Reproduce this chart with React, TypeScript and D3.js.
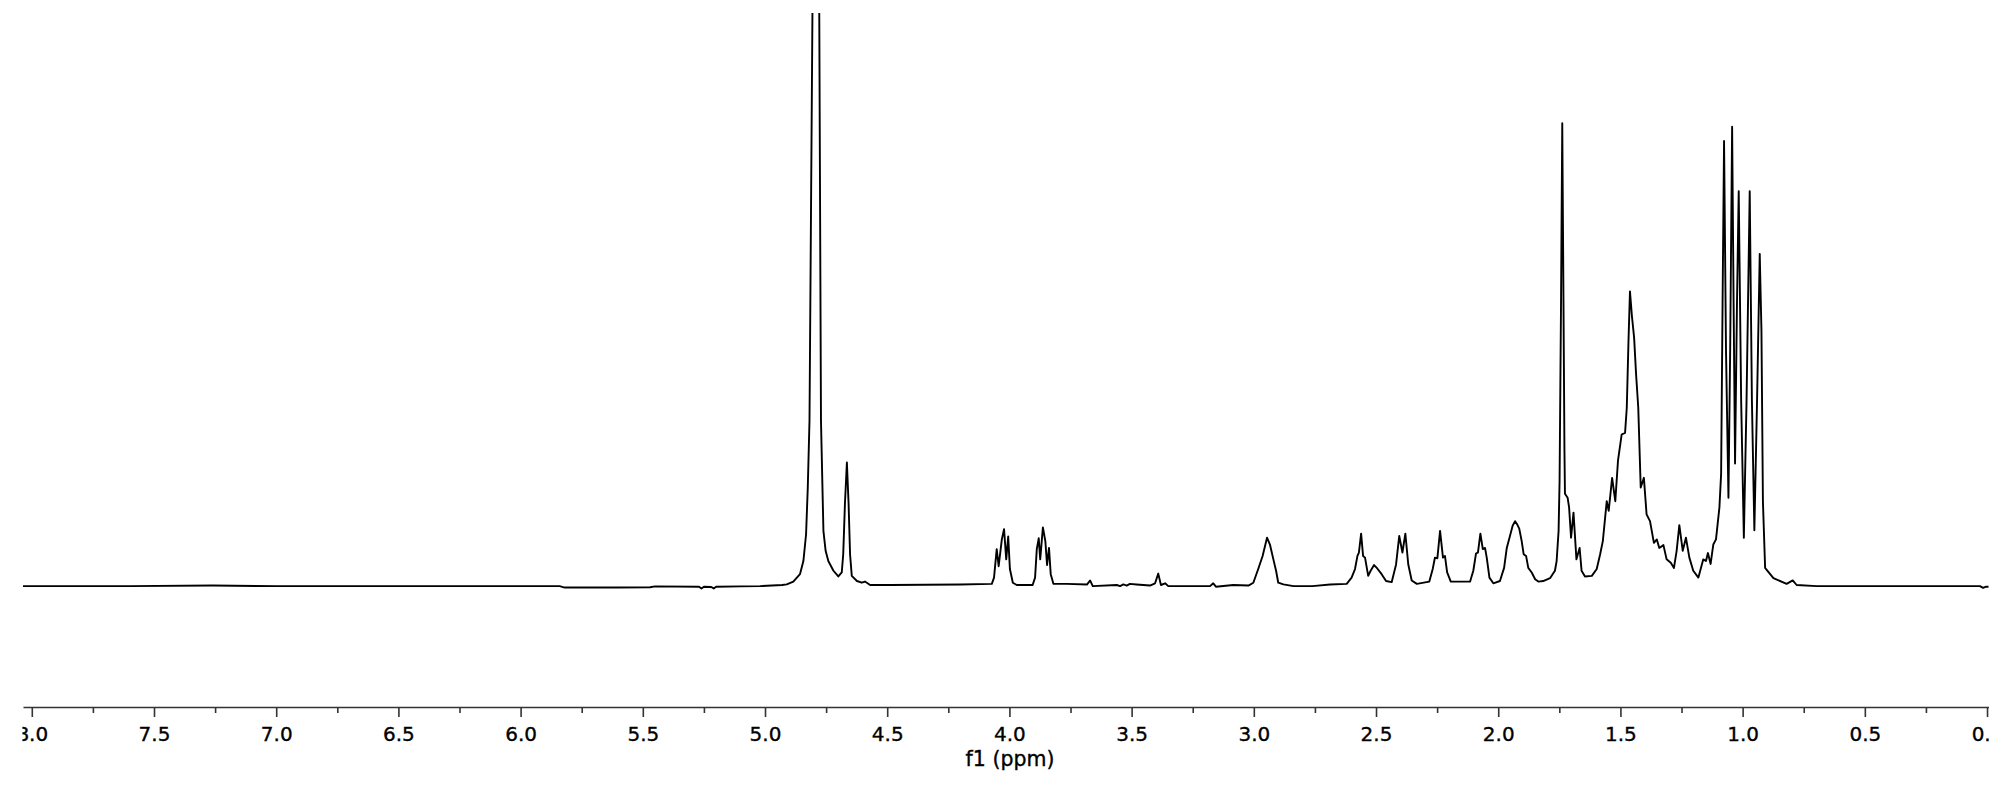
import { useEffect, useRef } from "react";
import * as d3 from "d3";

// chemical shift window shown (ppm, high -> low) and intensity window (0 = baseline, 100 = top of plot)
const ppmWindow = [8.036, -0.006];
const intensityWindow = [0, 100];

const majorTicks = [8.0, 7.5, 7.0, 6.5, 6.0, 5.5, 5.0, 4.5, 4.0, 3.5, 3.0, 2.5, 2.0, 1.5, 1.0, 0.5, 0.0];
const minorTicks = [7.75, 7.25, 6.75, 6.25, 5.75, 5.25, 4.75, 4.25, 3.75, 3.25, 2.75, 2.25, 1.75, 1.25, 0.75, 0.25];

const axisTitle = "f1 (ppm)";

// [ppm, intensity]
const baselineHigh = [
    [8.036, -0.2], [7.6, -0.2], [7.26, -0.1], [7.0, -0.2], [6.5, -0.2], [6.3, -0.2],
    [6.0, -0.2], [5.84, -0.2], [5.82, -0.45], [5.6, -0.45], [5.47, -0.4], [5.45, -0.25],
    [5.27, -0.3], [5.26, -0.6], [5.25, -0.3], [5.22, -0.35], [5.21, -0.6], [5.2, -0.3], [5.1, -0.25],
];

const waterRegion = [
    [5.02, -0.2], [4.93, 0.0], [4.911, 0.1], [4.884, 0.6], [4.857, 1.9], [4.843, 4.2],
    [4.832, 8.9], [4.825, 17.1], [4.818, 28.8], [4.806, 100], [4.796, 420], [4.778, 100],
    [4.771, 28.8], [4.761, 9.5], [4.752, 6.0], [4.741, 4.2], [4.72, 2.5], [4.7, 1.5],
    [4.686, 2.2], [4.68, 5.4], [4.673, 14.2], [4.665, 21.5], [4.658, 14.2], [4.652, 5.4],
    [4.645, 1.6], [4.624, 0.7], [4.604, 0.4], [4.591, 0.6], [4.57, 0.0], [4.488, 0.0],
];

const oxyRegion = [
    [4.2, 0.1], [4.072, 0.2], [4.063, 1.3], [4.052, 6.3], [4.044, 3.3], [4.031, 8.0],
    [4.022, 9.8], [4.013, 4.5], [4.005, 8.5], [3.998, 2.8], [3.986, 0.4], [3.97, 0.0],
    [3.905, 0.0], [3.895, 1.3], [3.888, 6.3], [3.88, 8.2], [3.874, 4.5], [3.863, 10.1],
    [3.853, 7.7], [3.846, 3.5], [3.838, 6.5], [3.831, 1.9], [3.82, 0.2], [3.766, 0.2],
    [3.682, 0.1], [3.67, 0.8], [3.659, -0.2], [3.561, 0.0], [3.547, -0.2], [3.534, 0.1],
    [3.52, -0.1], [3.507, 0.2], [3.48, 0.1], [3.425, -0.1], [3.404, 0.3], [3.391, 2.0],
    [3.38, 0.0], [3.363, 0.3], [3.35, -0.2], [3.179, -0.2], [3.166, 0.3], [3.155, -0.3],
    [3.084, 0.0], [3.022, -0.1], [3.002, 0.4], [2.982, 2.8], [2.964, 5.1], [2.946, 8.3],
    [2.934, 7.1], [2.92, 4.5], [2.909, 2.5], [2.9, 0.4], [2.879, 0.1], [2.838, -0.2],
    [2.76, -0.2], [2.688, 0.1],
];

const midRegion = [
    [2.62, 0.2], [2.6, 1.3], [2.586, 2.8], [2.576, 5.1], [2.57, 5.7], [2.561, 9.0],
    [2.553, 5.1], [2.545, 4.8], [2.532, 1.6], [2.522, 2.5], [2.508, 3.5], [2.495, 2.9],
    [2.477, 1.9], [2.459, 0.7], [2.436, 0.5], [2.418, 3.6], [2.405, 8.6], [2.392, 5.7],
    [2.38, 9.0], [2.368, 3.6], [2.354, 0.8], [2.333, 0.2], [2.282, 0.6], [2.268, 2.8],
    [2.259, 4.8], [2.249, 4.7], [2.238, 9.5], [2.226, 4.8], [2.218, 5.1], [2.209, 2.2],
    [2.194, 0.6], [2.115, 0.6], [2.102, 2.5], [2.091, 5.5], [2.083, 5.7], [2.073, 9.0],
    [2.063, 6.3], [2.054, 6.5], [2.047, 4.8], [2.036, 1.3], [2.02, 0.3], [1.993, 0.7],
    [1.976, 3.0], [1.965, 6.5], [1.952, 8.6], [1.941, 10.4], [1.931, 11.2], [1.922, 10.6],
    [1.914, 9.9], [1.904, 7.7], [1.896, 5.4], [1.886, 5.1], [1.877, 3.0], [1.863, 2.2],
    [1.849, 1.0], [1.836, 0.6], [1.816, 0.7],
];

const methylRegion = [
    [1.788, 1.2], [1.768, 2.5], [1.761, 4.2], [1.753, 9.5], [1.749, 18.2], [1.743, 49.8],
    [1.738, 81.0], [1.733, 49.8], [1.729, 23.5], [1.727, 16.0], [1.716, 15.3], [1.71, 13.6],
    [1.702, 8.3], [1.692, 12.7], [1.68, 4.5], [1.667, 6.5], [1.659, 2.5], [1.645, 1.5],
    [1.617, 1.6], [1.597, 2.8], [1.583, 5.4], [1.572, 7.7], [1.556, 14.7], [1.548, 13.0],
    [1.534, 18.8], [1.521, 14.7], [1.51, 21.8], [1.495, 26.4], [1.481, 26.7], [1.474, 31.1],
    [1.467, 42.8], [1.461, 51.5], [1.453, 47.2], [1.444, 43.4], [1.436, 37.0], [1.427, 31.1],
    [1.417, 17.1], [1.404, 18.8], [1.393, 12.4], [1.379, 11.2], [1.363, 7.4], [1.351, 8.0],
    [1.341, 6.5], [1.324, 7.0], [1.311, 4.5], [1.294, 3.9], [1.281, 3.0], [1.27, 6.0],
    [1.259, 10.5], [1.245, 6.0], [1.232, 8.3], [1.218, 4.8], [1.202, 2.5], [1.181, 1.3],
    [1.161, 4.5], [1.15, 4.2], [1.142, 5.6], [1.131, 3.7], [1.12, 7.1], [1.109, 8.0],
    [1.095, 13.6], [1.088, 19.5], [1.082, 49.8], [1.076, 77.9], [1.068, 41.1], [1.058, 15.3],
    [1.051, 41.1], [1.043, 80.4], [1.037, 49.8], [1.031, 21.3], [1.023, 49.8], [1.016, 69.1],
    [1.006, 32.3], [0.995, 8.3], [0.984, 32.3], [0.971, 69.1], [0.962, 32.3], [0.952, 9.6],
    [0.941, 32.3], [0.93, 58.1], [0.923, 44.6], [0.917, 14.7], [0.908, 3.0], [0.904, 2.8],
    [0.874, 1.2], [0.82, 0.2], [0.795, 0.8], [0.779, 0.0], [0.697, -0.2], [0.356, -0.2],
    [0.029, -0.2], [0.016, -0.5], [0.004, -0.3], [-0.006, -0.3],
];

const App = () => {
    const svgRef = useRef(null);

    useEffect(() => {
        document.body.style.margin = "0";

        const width = 2008;
        const height = 786;
        const baselineY = 585;
        const topY = 15;
        const axisY = 707;
        const font = "'DejaVu Sans', Verdana, sans-serif";

        const svg = d3.select(svgRef.current);
        svg.selectAll("*").remove();
        svg.attr("width", width).attr("height", height);

        const x = d3.scaleLinear().domain(ppmWindow).range([23, 1988.5]);
        const y = d3.scaleLinear().domain(intensityWindow).range([baselineY, topY]);

        const defs = svg.append("defs");
        defs.append("clipPath").attr("id", "plot-clip")
            .append("rect")
            .attr("x", 23).attr("y", 13)
            .attr("width", 1966).attr("height", 680);
        defs.append("clipPath").attr("id", "axis-clip")
            .append("rect")
            .attr("x", 22.5).attr("y", 690)
            .attr("width", 1966.5).attr("height", 96);

        const spectrum = [...baselineHigh, ...waterRegion, ...oxyRegion, ...midRegion, ...methylRegion];

        const line = d3.line()
            .x(d => x(d[0]))
            .y(d => y(d[1]));

        svg.append("path")
            .datum(spectrum)
            .attr("clip-path", "url(#plot-clip)")
            .attr("d", line)
            .attr("fill", "none")
            .attr("stroke", "#000")
            .attr("stroke-width", 1.9)
            .attr("stroke-linejoin", "round");

        const axisG = svg.append("g").attr("clip-path", "url(#axis-clip)");

        // major ticks with labels
        const major = axisG.append("g")
            .attr("transform", `translate(0,${axisY})`)
            .call(d3.axisBottom(x)
                .tickValues(majorTicks)
                .tickFormat(d3.format(".1f"))
                .tickSize(10)
                .tickSizeOuter(0)
                .tickPadding(9.5));
        major.select(".domain").attr("stroke", "#333").attr("stroke-width", 1.7);
        major.selectAll(".tick line").attr("stroke", "#333").attr("stroke-width", 1.6);
        major.selectAll("text")
            .attr("font-family", font)
            .attr("font-size", 20)
            .attr("fill", "#000")
            .attr("stroke", "#000")
            .attr("stroke-width", 0.35);

        // minor ticks
        const minor = axisG.append("g")
            .attr("transform", `translate(0,${axisY})`)
            .call(d3.axisBottom(x)
                .tickValues(minorTicks)
                .tickFormat(() => "")
                .tickSize(6)
                .tickSizeOuter(0));
        minor.select(".domain").remove();
        minor.selectAll(".tick line").attr("stroke", "#333").attr("stroke-width", 1.6);

        svg.append("text")
            .attr("x", 1010)
            .attr("y", 766)
            .attr("text-anchor", "middle")
            .attr("font-family", font)
            .attr("font-size", 20.5)
            .attr("fill", "#000")
            .attr("stroke", "#000")
            .attr("stroke-width", 0.35)
            .text(axisTitle);
    }, []);

    return (
        <svg
            ref={svgRef}
            style={{ position: "absolute", left: 0, top: 0, display: "block", background: "#fff" }}
        />
    );
};

export default App;
